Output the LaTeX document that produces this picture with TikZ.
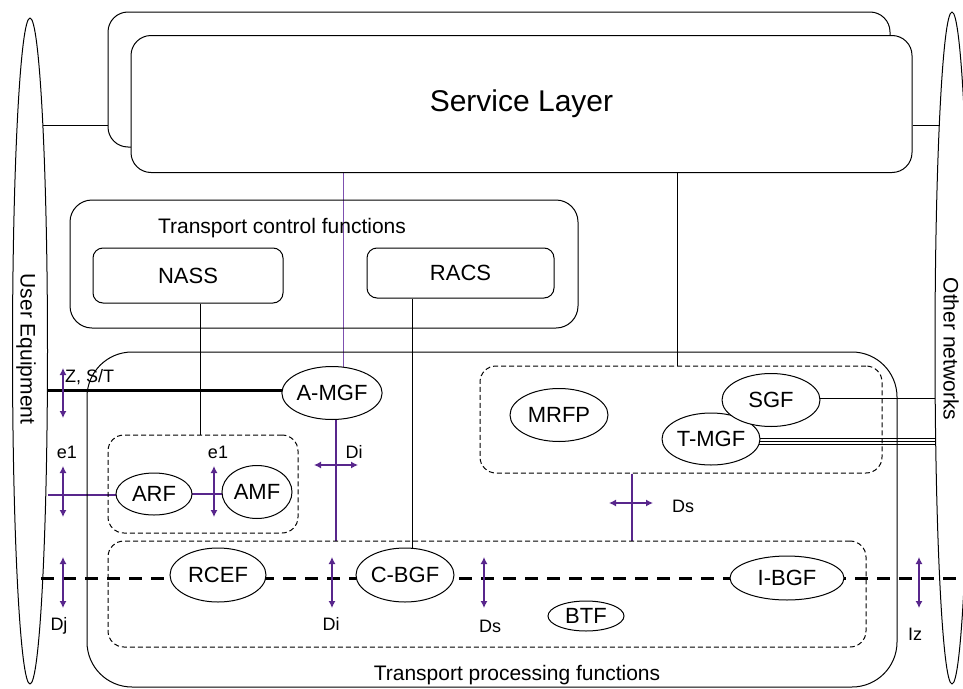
\documentclass[tikz,border=0pt]{standalone}
\usepackage{fontspec}
\setmainfont{Liberation Sans}
\usetikzlibrary{shapes.geometric,arrows.meta}
\pgfdeclarelayer{bg}
\pgfsetlayers{bg,main}
\definecolor{ifc}{RGB}{88,38,140}
\definecolor{ifl}{RGB}{125,80,175}
\begin{document}
\begin{tikzpicture}[x=1pt,y=-1pt,
  cont/.style={draw,line width=1pt,inner sep=0pt},
  fbox/.style={draw,fill=white,line width=1pt,inner sep=0pt,rounded corners=10pt,font=\fontsize{22}{26}\selectfont},
  dgroup/.style={draw,dash pattern=on 5pt off 3pt,line width=1pt,rounded corners=16pt,inner sep=0pt},
  fn/.style={ellipse,draw,fill=white,line width=1pt,inner sep=0pt,font=\fontsize{22}{26}\selectfont},
  lbl/.style={inner sep=0pt,anchor=base,font=\fontsize{18}{21}\selectfont},
  side/.style={inner sep=0pt,rotate=-90,font=\fontsize{21}{24}\selectfont},
  big/.style={inner sep=0pt,anchor=base,font=\fontsize{21}{24}\selectfont},
  ifarrow/.style={draw=ifc,line width=1.2pt,{Latex[length=7pt,width=7pt]}-{Latex[length=7pt,width=7pt]}},
  ifline/.style={draw=ifc,line width=1.2pt},
  conn/.style={draw,line width=1pt}]
\useasboundingbox (0,0) rectangle (963,688);

% side ellipses
\node[draw,line width=1pt,ellipse,minimum width=35pt,minimum height=666pt,inner sep=0pt] (ue) at (30,351) {};
\node[side] (uet) at (26,349) {User Equipment};
\node[draw,line width=1pt,ellipse,minimum width=34pt,minimum height=672pt,inner sep=0pt] (on) at (952,348) {};
\node[side] (ont) at (951,349) {Other networks};

% service layer
\node[cont,rounded corners=20pt,minimum width=782pt,minimum height=135pt] (svcback) at (499,79.5) {};
\node[cont,fill=white,rounded corners=20pt,minimum width=781pt,minimum height=137pt,font=\fontsize{30}{34}\selectfont] (svc) at (521.5,104) {Service Layer};

% transport control functions
\node[cont,rounded corners=22pt,minimum width=508pt,minimum height=128pt] (tcf) at (324,264) {};
\node[big] (tcft) at (282,233) {Transport control functions};
\node[fbox,minimum width=190pt,minimum height=55pt] (nass) at (188,275.5) {NASS};
\node[fbox,minimum width=187pt,minimum height=50pt] (racs) at (460.5,273) {RACS};

% transport processing functions
\node[cont,rounded corners=45pt,minimum width=810pt,minimum height=335pt] (tpf) at (492,519.5) {};
\node[big] (tpft) at (517,680) {Transport processing functions};
\node[dgroup,minimum width=402pt,minimum height=107pt] (mgroup) at (681,419.5) {};
\node[dgroup,minimum width=190pt,minimum height=98pt] (agroup) at (203,484) {};
\node[dgroup,minimum width=758pt,minimum height=106pt] (bgroup) at (487,594) {};

% functional entities
\node[fn,minimum width=98pt,minimum height=53pt] (amgf) at (332,393) {A-MGF};
\node[fn,minimum width=76pt,minimum height=42pt] (arf) at (154,494) {ARF};
\node[fn,minimum width=70pt,minimum height=53pt] (amf) at (257,492) {AMF};
\node[fn,minimum width=96pt,minimum height=54pt] (rcef) at (218,575) {RCEF};
\node[fn,minimum width=98pt,minimum height=54pt] (cbgf) at (405,575) {C-BGF};
\node[fn,minimum width=114pt,minimum height=44pt] (ibgf) at (787,578) {I-BGF};
\node[fn,minimum width=76pt,minimum height=30pt] (btf) at (586,616) {BTF};
\node[fn,minimum width=98pt,minimum height=53pt] (mrfp) at (559,415) {MRFP};
\node[fn,minimum width=98pt,minimum height=52pt] (tmgf) at (711,439) {T-MGF};
\node[fn,minimum width=98pt,minimum height=53pt] (sgf) at (771,400) {SGF};

% helper coordinates
\coordinate (ueA) at (43,125);
\coordinate (onA) at (939,125);
\coordinate (ueZ) at (47,390);
\coordinate (ueE) at (48,495);
\coordinate (dashL) at (41,578);
\coordinate (dashR) at (963,578);
\coordinate (onS) at (935,398);
\coordinate (onT1) at (935,438.5);
\coordinate (onT2) at (935,441.5);
\coordinate (onT3) at (935,444.5);
\coordinate (xa) at (343,0);
\coordinate (xb) at (677,0);
\coordinate (xn) at (200,0);
\coordinate (xr) at (412,0);
\coordinate (xd) at (336,0);
\coordinate (xs) at (632,0);

\begin{pgfonlayer}{bg}
\draw[conn] (ueA) -- (svcback.west |- ueA);
\draw[conn] (svc.east |- onA) -- (onA);
\draw[draw=ifl,line width=1pt] (xa |- svc.south) -- (xa |- amgf.center);
\draw[conn] (xb |- svc.south) -- (xb |- mgroup.north);
\draw[conn] (xn |- nass.south) -- (xn |- agroup.north);
\draw[conn] (xr |- racs.south) -- (xr |- cbgf.center);
\draw[line width=3pt] (ueZ) -- (ueZ -| amgf.center);
\draw[ifline] (xd |- amgf.center) -- (xd |- bgroup.north);
\draw[ifline] (ueE) -- (ueE -| arf.center);
\draw[ifline] (arf.center) -- (arf.center -| amf.center);
\draw[ifline] (xs |- mgroup.south) -- (xs |- bgroup.north);
\draw[conn] (onS -| sgf.center) -- (onS);
\draw[line width=1pt] (onT1 -| tmgf.center) -- (onT1);
\draw[line width=1pt] (onT2 -| tmgf.center) -- (onT2);
\draw[line width=1pt] (onT3 -| tmgf.center) -- (onT3);
\draw[line width=3pt,dash pattern=on 13pt off 9pt] (dashL) -- (dashR);
\end{pgfonlayer}

% interface arrows
\coordinate (zA) at (63,368);   \coordinate (zB) at (63,418);
\coordinate (e1A) at (63,466);  \coordinate (e1B) at (63,517);
\coordinate (e2A) at (214,466); \coordinate (e2B) at (214,517);
\coordinate (diA) at (314,465); \coordinate (diB) at (358,465);
\coordinate (dsA) at (609,503); \coordinate (dsB) at (653,503);
\coordinate (djA) at (63,557);  \coordinate (djB) at (63,608);
\coordinate (di2A) at (332,557); \coordinate (di2B) at (332,608);
\coordinate (ds2A) at (484,557); \coordinate (ds2B) at (484,608);
\coordinate (izA) at (919,557); \coordinate (izB) at (919,608);
\draw[ifarrow] (zA) -- (zB);
\draw[ifarrow] (e1A) -- (e1B);
\draw[ifarrow] (e2A) -- (e2B);
\draw[ifarrow] (diA) -- (diB);
\draw[ifarrow] (dsA) -- (dsB);
\draw[ifarrow] (djA) -- (djB);
\draw[ifarrow] (di2A) -- (di2B);
\draw[ifarrow] (ds2A) -- (ds2B);
\draw[ifarrow] (izA) -- (izB);

% interface labels
\node[lbl,anchor=base west] (lz) at (65,382) {Z, S/T};
\node[lbl] (le1) at (67,458) {e1};
\node[lbl] (le2) at (218,458) {e1};
\node[lbl] (ldi) at (354,458) {Di};
\node[lbl] (lds) at (683,512) {Ds};
\node[lbl] (ldj) at (59,630) {Dj};
\node[lbl] (ldi2) at (331,630) {Di};
\node[lbl] (lds2) at (490,632) {Ds};
\node[lbl] (liz) at (915,640) {Iz};
\end{tikzpicture}
\end{document}
